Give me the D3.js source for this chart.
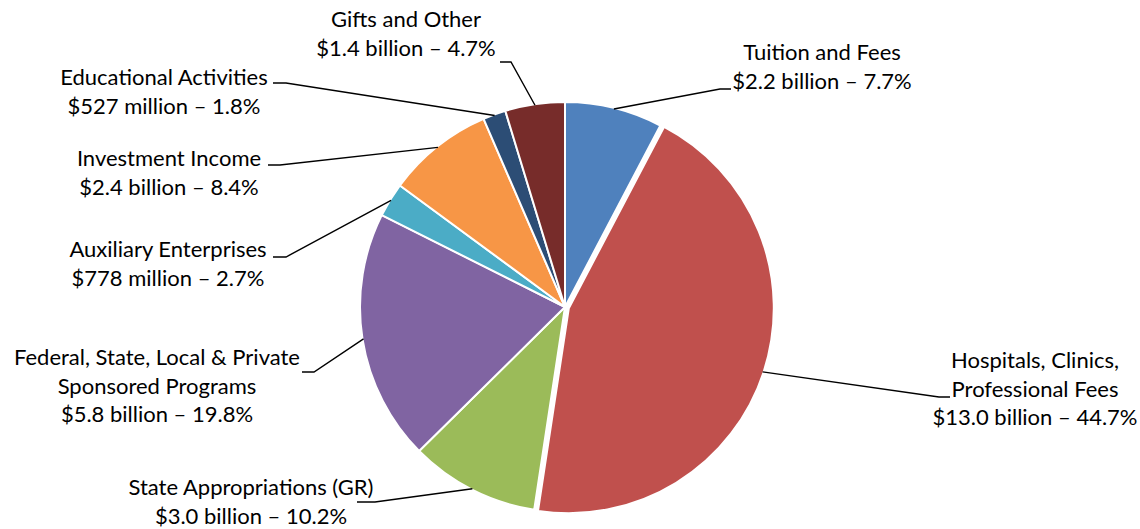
<!DOCTYPE html>
<html>
<head>
<meta charset="utf-8">
<script src="https://cdn.jsdelivr.net/npm/d3@7"></script>
<style>
  body { margin: 0; background: #fff; }
  text { font-family: Lato, "Noto Sans", sans-serif; fill: #000; }
</style>
</head>
<body>
<script>
// Revenue sources, clockwise from 12 o'clock
var categories = ["Tuition and Fees", "Hospitals, Clinics, Professional Fees", "State Appropriations (GR)",
  "Federal, State, Local & Private Sponsored Programs", "Auxiliary Enterprises", "Investment Income",
  "Educational Activities", "Gifts and Other"];
var percents = [7.7, 44.7, 10.2, 19.8, 2.7, 8.4, 1.8, 4.7];
var amounts = ["$2.2 billion", "$13.0 billion", "$3.0 billion", "$5.8 billion", "$778 million",
  "$2.4 billion", "$527 million", "$1.4 billion"];
var nameLines = [["Tuition and Fees"], ["Hospitals, Clinics,", "Professional Fees"], ["State Appropriations (GR)"],
  ["Federal, State, Local & Private", "Sponsored Programs"], ["Auxiliary Enterprises"], ["Investment Income"],
  ["Educational Activities"], ["Gifts and Other"]];
var colors = ["#4F81BD", "#C0504D", "#9BBB59", "#8064A2", "#4BACC6", "#F79646", "#2C4D75", "#772C2A"];

// Set up size
var width = 1140, height = 529;
var cx = 565, cy = 307, radius = 205;
var explode = [0, 4, 0, 0, 0, 0, 0, 0];

// label placement: text centre x, first baseline y, horizontal leader piece (x0 -> x1 at y)
var labelLayout = [
  { tx: 822, ty: 60, hx0: 731, hx1: 720, hy: 89 },
  { tx: 1035, ty: 368, hx0: 950, hx1: 939, hy: 397 },
  { tx: 251, ty: 495, hx0: 357, hx1: 375, hy: 502 },
  { tx: 157, ty: 365, hx0: 302, hx1: 314, hy: 372 },
  { tx: 168, ty: 257, hx0: 273, hx1: 286, hy: 257 },
  { tx: 169, ty: 166, hx0: 268, hx1: 280, hy: 165 },
  { tx: 164, ty: 85, hx0: 273, hx1: 286, hy: 83 },
  { tx: 406, ty: 27, hx0: 500, hx1: 511, hy: 62 }
];

var svg = d3.select("body").append("svg")
  .attr("width", width)
  .attr("height", height);

var pie = d3.pie().sort(null).value(function(d) { return d; });
var arcs = pie(percents);

var arc = d3.arc().innerRadius(0).outerRadius(radius);

var g = svg.append("g").attr("transform", "translate(" + cx + "," + cy + ")");

g.selectAll("path")
  .data(arcs)
  .enter()
  .append("path")
  .attr("d", arc)
  .attr("fill", function(d, i) { return colors[i]; })
  .attr("stroke", "#fff")
  .attr("stroke-width", 2)
  .attr("stroke-linejoin", "round")
  .attr("transform", function(d, i) {
    var a = (d.startAngle + d.endAngle) / 2;
    return "translate(" + (Math.sin(a) * explode[i]) + "," + (-Math.cos(a) * explode[i]) + ")";
  });

// leader lines
arcs.forEach(function(d, i) {
  var a = (d.startAngle + d.endAngle) / 2;
  var r = radius - 1 + explode[i];
  var px = cx + Math.sin(a) * r, py = cy - Math.cos(a) * r;
  var L = labelLayout[i];
  svg.append("polyline")
    .attr("points", [[px, py], [L.hx1, L.hy], [L.hx0, L.hy]].map(function(p) { return p.join(","); }).join(" "))
    .attr("fill", "none")
    .attr("stroke", "#000")
    .attr("stroke-width", 1.4);
});

// labels
arcs.forEach(function(d, i) {
  var L = labelLayout[i];
  var lines = nameLines[i].concat([amounts[i] + " \u2013 " + percents[i].toFixed(1) + "%"]);
  var t = svg.append("text")
    .attr("text-anchor", "middle")
    .attr("font-size", 22);
  lines.forEach(function(s, j) {
    t.append("tspan")
      .attr("x", L.tx)
      .attr("y", L.ty + j * 28.6)
      .text(s);
  });
});
</script>
</body>
</html>
